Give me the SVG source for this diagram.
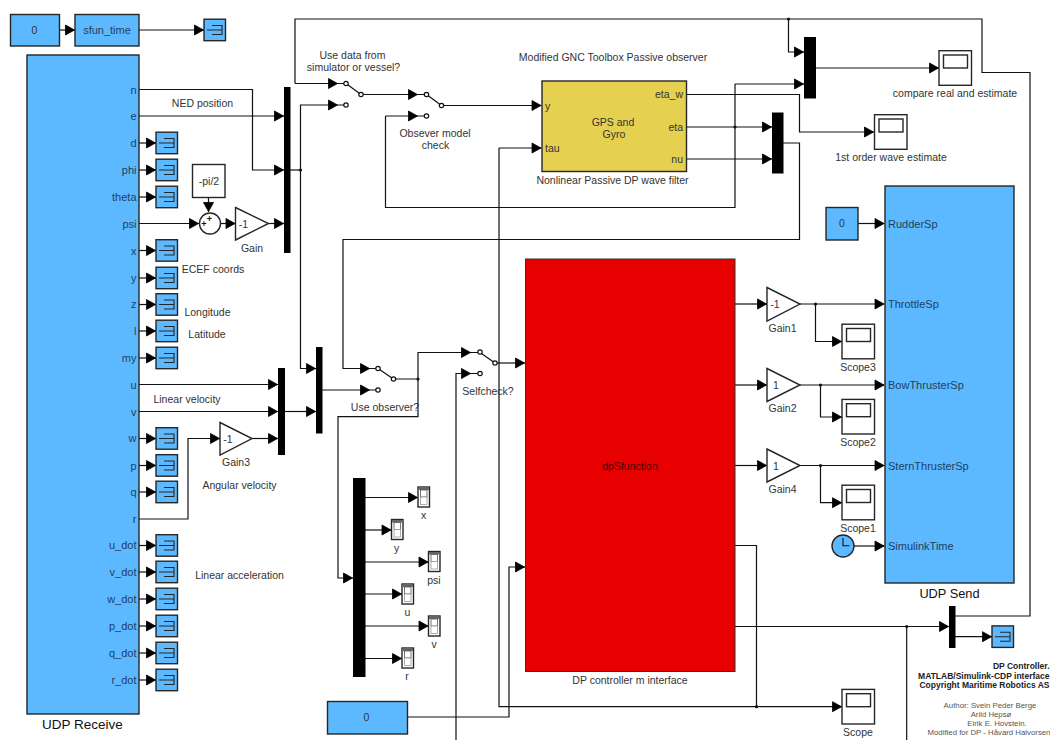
<svg xmlns="http://www.w3.org/2000/svg" width="1050" height="740" viewBox="0 0 1050 740">
<style>
text{font-family:"Liberation Sans",Arial,sans-serif;font-size:10.5px;fill:#333;text-anchor:middle}
.p{text-anchor:end;fill:#1f3f5f;font-size:11px}
.l{text-anchor:start;fill:#1f3f5f;font-size:11px}
.t{font-size:12.800px;fill:#111}
.b{font-size:8.500px;font-weight:bold;text-anchor:end;fill:#222}
.s{font-size:7.800px;fill:#555}
.blk{fill:#5db9ff;stroke:#262626;stroke-width:1.4}
.wht{fill:#fff;stroke:#262626;stroke-width:1.4}
.mux{fill:#000;stroke:none}
.w{fill:none;stroke:#111;stroke-width:1.2}
.a{marker-end:url(#arr)}
.d{fill:#111;stroke:none}
.c{fill:#fff;stroke:#111;stroke-width:1.2}
</style>
<defs>
<marker id="arr" markerUnits="userSpaceOnUse" markerWidth="12" markerHeight="13" refX="10.500" refY="6.500" orient="auto"><path d="M1 1.500L10 6.500L1 11.500Z" fill="#000" stroke="#000" stroke-width="0.800"/></marker>
<g id="term"><rect class="blk" x="0" y="-10.800" width="21.500" height="21.500"/><path d="M8 -4.500H18V4.500H8M3 0H18" fill="none" stroke="#262626" stroke-width="1.100"/></g>
<g id="scope"><rect class="wht" x="0" y="-17.300" width="32.500" height="34.600"/><rect class="wht" x="4.500" y="-13" width="24" height="13"/></g>
<g id="disp"><rect class="wht" x="0" y="-10" width="11.500" height="20"/><rect x="0.500" y="-9.500" width="10.500" height="2.500" fill="#666"/><rect x="2.500" y="-7" width="6.500" height="7" fill="#fff" stroke="#555" stroke-width="0.800"/><rect x="2.500" y="0" width="6.500" height="7.500" fill="#fff" stroke="#999" stroke-width="0.800"/></g>
</defs>
<rect width="1050" height="740" fill="#fff"/>

<g id="connectors">
<path class="w a" d="M59 30H75"/>
<path class="w a" d="M139 30H204"/>
<path class="w a" d="M139 143H156"/><path class="w a" d="M139 170H156"/><path class="w a" d="M139 197H156"/>
<path class="w a" d="M139 250.500H156"/><path class="w a" d="M139 278H156"/><path class="w a" d="M139 304.500H156"/><path class="w a" d="M139 331H156"/><path class="w a" d="M139 358H156"/>
<path class="w a" d="M139 438.500H156"/><path class="w a" d="M139 465.500H156"/><path class="w a" d="M139 492H156"/>
<path class="w a" d="M139 545.500H156"/><path class="w a" d="M139 572H156"/><path class="w a" d="M139 599H156"/><path class="w a" d="M139 626H156"/><path class="w a" d="M139 653H156"/><path class="w a" d="M139 680H156"/>
<path class="w a" d="M139 89.500H252.500V170H284"/>
<path class="w a" d="M139 116H284"/>
<path class="w a" d="M139 223.500H199"/>
<path class="w a" d="M208.500 197.500V212"/>
<path class="w a" d="M221 223.500H235.500"/>
<path class="w a" d="M268.500 223.500H284"/>
<path class="w" d="M290 170H300.500"/>
<path class="w a" d="M300.500 170V105H338"/>
<path class="w a" d="M300.500 170V368.500H316"/>
<path class="w a" d="M139 384.500H278"/>
<path class="w a" d="M139 411.500H278"/>
<path class="w a" d="M139 519H188V438.500H220"/>
<path class="w a" d="M252 438.500H278"/>
<path class="w a" d="M285 411.500H316"/>
<path class="w a" d="M322 390H370"/>
<path class="w" d="M295 83.500V19H982V72.500H1030V616H955"/>
<path class="w a" d="M295 83.500H338"/>
<path class="w a" d="M788.500 19V52H804"/>
<path class="w a" d="M361 94.500H418"/>
<path class="w a" d="M441.500 105.500H541.500"/>
<path class="w a" d="M385.500 116H418"/>
<path class="w" d="M385.500 116V207.500H735V84"/>
<path class="w a" d="M735 84H804"/>
<path class="w a" d="M686.500 127H772"/>
<path class="w a" d="M686.500 159H772"/>
<path class="w a" d="M686.500 94.500H799.500V132H874"/>
<path class="w a" d="M816 68H939"/>
<path class="w a" d="M783 143H799.500V239.500H343V368.500H370"/>
<path class="w a" d="M393.500 379H418V352.500H471"/>
<path class="w a" d="M418 379V416.700H338V578H353"/>
<path class="w a" d="M495 363H525"/>
<path class="w a" d="M456 740V373.500H471"/>
<path class="w a" d="M365 497.500H418"/>
<path class="w a" d="M365 530H391.500"/>
<path class="w a" d="M365 562H428.500"/>
<path class="w a" d="M365 594H402"/>
<path class="w a" d="M365 626H428.500"/>
<path class="w a" d="M365 658.500H402"/>
<path class="w a" d="M407.500 717H509V567H525"/>
<path class="w a" d="M499 148H541.500"/>
<path class="w a" d="M499 148V706.700H842"/>
<path class="w" d="M735 545.500H756.500V706.700"/>
<path class="w a" d="M735 626.500H949"/>
<path class="w" d="M906.700 626.500V740"/>
<path class="w a" d="M955 636.700H992"/>
<path class="w a" d="M735 304H767"/>
<path class="w a" d="M800 304H884.500"/>
<path class="w a" d="M815.500 304V341.500H842"/>
<path class="w a" d="M735 385H767"/>
<path class="w a" d="M800 385H884.500"/>
<path class="w a" d="M820.500 385V417H842"/>
<path class="w a" d="M735 465.500H767"/>
<path class="w a" d="M800 465.500H884.500"/>
<path class="w a" d="M820.500 465.500V502.700H842"/>
<path class="w a" d="M854 546H884.500"/>
<path class="w a" d="M858 223.500H884.500"/>
<circle class="d" cx="300.500" cy="170" r="1.600"/><circle class="d" cx="788.500" cy="19" r="1.600"/><circle class="d" cx="735" cy="127" r="1.600"/>
<circle class="d" cx="418" cy="379" r="1.600"/><circle class="d" cx="756.500" cy="706.700" r="1.600"/><circle class="d" cx="906.700" cy="626.500" r="1.600"/>
<circle class="d" cx="815.500" cy="304" r="1.600"/><circle class="d" cx="820.500" cy="385" r="1.600"/><circle class="d" cx="820.500" cy="465.500" r="1.600"/>
</g>

<g id="const1"><rect class="blk" x="10.500" y="14.500" width="49" height="31.500"/><text x="34.500" y="34">0</text></g>
<g id="sfun_time"><rect class="blk" x="75" y="14.500" width="64" height="31.500"/><text x="107" y="34" style="font-size:11px;fill:#1f3f5f">sfun_time</text></g>
<g id="term0"><use href="#term" x="204" y="30"/></g>

<g id="udp_receive"><rect class="blk" x="27" y="55" width="112" height="659"/>
<text class="p" x="136.500" y="93.500">n</text><text class="p" x="136.500" y="120">e</text><text class="p" x="136.500" y="147">d</text><text class="p" x="136.500" y="174">phi</text><text class="p" x="136.500" y="201">theta</text><text class="p" x="136.500" y="227.500">psi</text><text class="p" x="136.500" y="254.500">x</text><text class="p" x="136.500" y="282">y</text><text class="p" x="136.500" y="308">z</text><text class="p" x="136.500" y="335">l</text><text class="p" x="136.500" y="362">my</text><text class="p" x="136.500" y="388.500">u</text><text class="p" x="136.500" y="415.500">v</text><text class="p" x="136.500" y="442">w</text><text class="p" x="136.500" y="469.500">p</text><text class="p" x="136.500" y="496">q</text><text class="p" x="136.500" y="523">r</text><text class="p" x="136.500" y="549">u_dot</text><text class="p" x="136.500" y="576">v_dot</text><text class="p" x="136.500" y="603">w_dot</text><text class="p" x="136.500" y="630">p_dot</text><text class="p" x="136.500" y="657">q_dot</text><text class="p" x="136.500" y="684">r_dot</text>
<text class="t" x="82.500" y="729" style="font-size:13.500px">UDP Receive</text></g>

<g id="terms">
<use href="#term" x="156" y="143"/><use href="#term" x="156" y="170"/><use href="#term" x="156" y="197"/><use href="#term" x="156" y="250.500"/><use href="#term" x="156" y="278"/><use href="#term" x="156" y="304.500"/><use href="#term" x="156" y="331"/><use href="#term" x="156" y="358"/><use href="#term" x="156" y="438.500"/><use href="#term" x="156" y="465.500"/><use href="#term" x="156" y="492"/><use href="#term" x="156" y="545.500"/><use href="#term" x="156" y="572"/><use href="#term" x="156" y="599"/><use href="#term" x="156" y="626"/><use href="#term" x="156" y="653"/><use href="#term" x="156" y="680"/>
</g>

<g id="const_pi"><rect class="wht" x="192.500" y="164.500" width="32.500" height="33"/><text x="209" y="185">-pi/2</text></g>
<g id="sum"><circle class="wht" cx="210" cy="223.500" r="10.500"/><text x="204" y="227" style="font-size:9px;font-weight:bold;fill:#111">+</text><text x="209.500" y="222" style="font-size:9px;font-weight:bold;fill:#111">+</text></g>
<g id="gain"><path class="wht" d="M235.500 207.500L268.500 223.500L235.500 240Z"/><text x="243.500" y="227.500">-1</text><text x="252" y="252">Gain</text></g>
<g id="gain3"><path class="wht" d="M220 422.500L252 438.500L220 455Z"/><text x="228" y="442.500">-1</text><text x="236" y="466">Gain3</text></g>
<g id="mux1"><rect class="mux" x="284" y="87" width="6.500" height="166"/></g>
<g id="mux2"><rect class="mux" x="278" y="368" width="7" height="87"/></g>
<g id="mux3"><rect class="mux" x="316" y="347" width="6.500" height="86.500"/></g>
<g id="mux4"><rect class="mux" x="772" y="112.500" width="11.500" height="61"/></g>
<g id="mux5"><rect class="mux" x="804" y="37" width="12" height="61.500"/></g>
<g id="mux6"><rect class="mux" x="353" y="478" width="12.500" height="199"/></g>
<g id="mux7"><rect class="mux" x="949" y="606" width="6.500" height="42"/></g>

<g id="switch1"><path class="w" d="M338 83.500H346M338 105H346M346 83.500L361 94.500"/><circle class="c" cx="346" cy="83.500" r="2.200"/><circle class="c" cx="346" cy="105" r="2.200"/><circle class="c" cx="361" cy="94.500" r="2.200"/><text x="352.500" y="59">Use data from</text><text x="353.500" y="71">simulator or vessel?</text></g>
<g id="switch2"><path class="w" d="M418 94.500H426.500M418 116H426.500M426.500 94.500L441.500 105.500"/><circle class="c" cx="426.500" cy="94.500" r="2.200"/><circle class="c" cx="426.500" cy="116" r="2.200"/><circle class="c" cx="441.500" cy="105.500" r="2.200"/><text x="435" y="137">Obsever model</text><text x="435.500" y="149">check</text></g>
<g id="switch3"><path class="w" d="M370 368.500H378M370 390H378M378 368.500L393.500 379"/><circle class="c" cx="378" cy="368.500" r="2.200"/><circle class="c" cx="378" cy="390" r="2.200"/><circle class="c" cx="393.500" cy="379" r="2.200"/><text x="385" y="411">Use observer?</text></g>
<g id="switch4"><path class="w" d="M471 352.500H480M471 373.500H480M480 352.500L495 363"/><circle class="c" cx="480" cy="352" r="2.200"/><circle class="c" cx="480" cy="373.500" r="2.200"/><circle class="c" cx="495" cy="363" r="2.200"/><text x="488" y="395">Selfcheck?</text></g>

<g id="observer"><rect x="542" y="81" width="144.500" height="90.500" fill="#e6d050" stroke="#262626" stroke-width="1.400"/>
<text x="613" y="126">GPS and</text><text x="614" y="138">Gyro</text>
<text x="545" y="109.500" style="text-anchor:start">y</text><text x="545" y="152" style="text-anchor:start">tau</text>
<text x="683" y="98" style="text-anchor:end">eta_w</text><text x="683" y="130.500" style="text-anchor:end">eta</text><text x="683" y="163" style="text-anchor:end">nu</text>
<text x="612.500" y="184">Nonlinear Passive DP wave filter</text><text x="613" y="61">Modified GNC Toolbox Passive observer</text></g>

<g id="scope_compare"><use href="#scope" x="939" y="68"/><text x="955" y="97">compare real and estimate</text></g>
<g id="scope_wave"><use href="#scope" x="874.500" y="132"/><text x="891" y="161">1st order wave estimate</text></g>
<g id="scope3"><use href="#scope" x="842" y="341.500"/><text x="858" y="371">Scope3</text></g>
<g id="scope2"><use href="#scope" x="842" y="416.700"/><text x="858" y="446">Scope2</text></g>
<g id="scope1"><use href="#scope" x="842" y="502.500"/><text x="858" y="532">Scope1</text></g>
<g id="scope0"><use href="#scope" x="842" y="706.700"/><text x="858" y="736">Scope</text></g>

<g id="disp_x"><use href="#disp" x="418" y="497"/><text x="423.500" y="519">x</text></g>
<g id="disp_y"><use href="#disp" x="391.500" y="529.500"/><text x="396.500" y="552">y</text></g>
<g id="disp_psi"><use href="#disp" x="428.500" y="561.500"/><text x="434" y="584">psi</text></g>
<g id="disp_u"><use href="#disp" x="402" y="594"/><text x="407.500" y="616">u</text></g>
<g id="disp_v"><use href="#disp" x="428.500" y="626"/><text x="434" y="648">v</text></g>
<g id="disp_r"><use href="#disp" x="402" y="658"/><text x="407" y="680">r</text></g>

<g id="const_bottom"><rect class="blk" x="327.500" y="701.500" width="80" height="32.500"/><text x="366.500" y="721">0</text></g>
<g id="dp_controller"><rect x="525.500" y="259" width="209.500" height="412.500" fill="#e60000" stroke="#333" stroke-width="1"/><text x="630" y="470" style="fill:#400">dpSfunction</text><text x="630" y="684">DP controller m interface</text></g>

<g id="gain1"><path class="wht" d="M767 287.500L800 304L767 321Z"/><text x="775" y="308">-1</text><text x="782.500" y="332">Gain1</text></g>
<g id="gain2"><path class="wht" d="M767 368.500L800 385L767 401.500Z"/><text x="776" y="389">1</text><text x="782.500" y="412">Gain2</text></g>
<g id="gain4"><path class="wht" d="M767 449L800 465.500L767 482Z"/><text x="776" y="469.500">1</text><text x="782.500" y="493">Gain4</text></g>
<g id="const_rudder"><rect class="blk" x="826" y="207.500" width="32" height="32.500"/><text x="842" y="227">0</text></g>
<g id="clock"><circle class="blk" cx="843" cy="546" r="11"/><path d="M843 538V545.700H849.500" fill="none" stroke="#111" stroke-width="1.100"/></g>
<g id="udp_send"><rect class="blk" x="885" y="186" width="129" height="397"/>
<text class="l" x="888" y="227.500">RudderSp</text><text class="l" x="888" y="308">ThrottleSp</text><text class="l" x="888" y="389">BowThrusterSp</text><text class="l" x="888" y="469.500">SternThrusterSp</text><text class="l" x="888" y="550">SimulinkTime</text>
<text class="t" x="949.500" y="598">UDP Send</text></g>
<g id="term_final"><use href="#term" x="992" y="636.700"/></g>

<g id="labels">
<text x="202.500" y="107">NED position</text>
<text x="213" y="273">ECEF coords</text>
<text x="207.500" y="316">Longitude</text>
<text x="207" y="338">Latitude</text>
<text x="187" y="402.500">Linear velocity</text>
<text x="239.500" y="488.500">Angular velocity</text>
<text x="239.500" y="579">Linear acceleration</text>
<text class="b" x="1049.500" y="669">DP Controller.</text>
<text class="b" x="1049.500" y="678.500">MATLAB/Simulink-CDP interface</text>
<text class="b" x="1049.500" y="687.500">Copyright Maritime Robotics AS</text>
<text class="s" x="990" y="708">Author: Svein Peder Berge</text>
<text class="s" x="991" y="717">Arild Hepsø</text>
<text class="s" x="997" y="726">Eirik E. Hovstein.</text>
<text class="s" x="989" y="735">Modified for DP - Håvard Halvorsen</text>
</g>
</svg>
